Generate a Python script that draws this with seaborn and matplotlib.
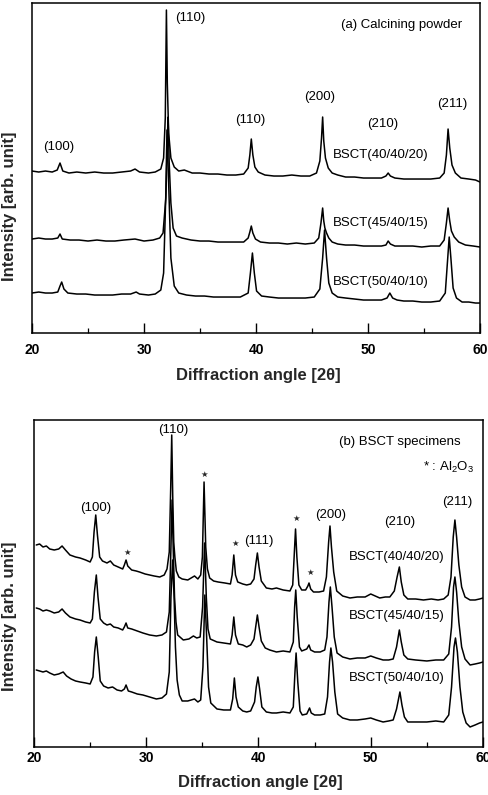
"""
plot.py
XRD patterns of BSCT calcined powders (a) and sintered specimens (b),
three compositions stacked with offsets, redrawn from the published figure.
"""

import numpy as np
import pandas as pd
import matplotlib
matplotlib.use("Agg")
import matplotlib.pyplot as plt
from matplotlib.ticker import MultipleLocator
import seaborn as sns

sns.set_theme(style="ticks")
plt.rcParams["font.family"] = ["Liberation Sans", "DejaVu Sans"]
plt.rcParams["mathtext.fontset"] = "custom"
plt.rcParams["mathtext.rm"] = "Liberation Sans"
plt.rcParams["mathtext.it"] = "Liberation Sans:italic"

samples = ["BSCT(40/40/20)", "BSCT(45/40/15)", "BSCT(50/40/10)"]

# ---- (a) calcining powder : 2theta [deg] / stacked intensity [arb.] ----
a1_angle = [20.0, 20.6, 21.2, 21.8, 22.25, 22.5, 22.75, 23.3, 24.0, 24.8, 25.6, 26.4, 27.2, 28.0,
            28.8, 29.2, 29.6, 30.4, 31.0, 31.5, 31.75, 31.9, 32.0, 32.08, 32.2, 32.4, 32.7, 33.1,
            33.6, 34.3, 35.0, 35.8, 36.6, 37.4, 38.2, 38.9, 39.3, 39.45, 39.58, 39.72, 39.9, 40.2,
            40.8, 41.6, 42.4, 43.2, 44.0, 44.8, 45.4, 45.7, 45.85, 45.95, 46.05, 46.2, 46.45, 46.8,
            47.3, 48.0, 48.8, 49.6, 50.4, 51.2, 51.6, 51.8, 52.0, 52.4, 53.2, 54.0, 54.8, 55.6,
            56.4, 56.8, 57.0, 57.15, 57.3, 57.5, 57.8, 58.3, 59.0, 59.6, 60.0]
a1_int = [162, 161, 162, 161, 163, 170, 162, 160, 161, 160, 161, 160, 160, 161,
          162, 164, 161, 160, 161, 164, 175, 215, 323, 250, 200, 175, 166, 162,
          163, 160, 160, 159, 159, 158, 158, 159, 165, 178, 194, 178, 166, 161,
          158, 157, 157, 158, 157, 157, 160, 172, 195, 216, 192, 175, 165, 160,
          158, 156, 156, 155, 155, 155, 157, 160, 157, 155, 154, 154, 154, 154,
          155, 160, 178, 204, 185, 168, 160, 155, 154, 153, 151]

a2_angle = [20.0, 20.6, 21.2, 21.8, 22.3, 22.5, 22.7, 23.4, 24.2, 25.0, 25.8, 26.6, 27.4, 28.2,
            29.2, 30.0, 30.8, 31.4, 31.7, 31.95, 32.1, 32.15, 32.25, 32.4, 32.6, 32.9, 33.4, 34.2,
            35.0, 35.8, 36.6, 37.4, 38.2, 38.9, 39.3, 39.45, 39.58, 39.72, 39.95, 40.4, 41.2, 42.0,
            42.8, 43.6, 44.4, 45.2, 45.6, 45.8, 45.95, 46.05, 46.15, 46.3, 46.5, 46.8, 47.3, 48.0,
            48.8, 49.6, 50.4, 51.2, 51.6, 51.8, 52.0, 52.4, 53.2, 54.0, 54.8, 55.6, 56.4, 56.8,
            57.0, 57.15, 57.3, 57.45, 57.7, 58.1, 58.7, 59.4, 60.0]
a2_int = [94, 95, 94, 94, 95, 99, 94, 93, 93, 92, 93, 92, 92, 93,
          94, 92, 93, 95, 100, 135, 200, 216, 170, 130, 105, 97, 95, 93,
          92, 92, 91, 91, 91, 91, 95, 101, 107, 100, 94, 91, 90, 90,
          89, 90, 89, 90, 95, 110, 125, 112, 105, 100, 95, 91, 89, 88,
          88, 87, 87, 87, 88, 92, 89, 87, 87, 87, 86, 87, 87, 93,
          110, 125, 112, 102, 96, 91, 88, 87, 86]

a3_angle = [20.0, 20.6, 21.2, 21.8, 22.3, 22.5, 22.65, 22.85, 23.2, 24.0, 24.8, 25.6, 26.4, 27.2,
            28.0, 28.8, 29.3, 29.6, 30.4, 31.0, 31.5, 31.75, 31.95, 32.05, 32.2, 32.4, 32.7, 33.1,
            33.8, 34.6, 35.4, 36.2, 37.0, 37.8, 38.6, 39.3, 39.5, 39.68, 39.85, 40.05, 40.5, 41.2,
            42.0, 42.8, 43.6, 44.4, 45.2, 45.7, 45.95, 46.12, 46.3, 46.5, 46.8, 47.3, 48.0, 48.8,
            49.6, 50.4, 51.2, 51.7, 51.95, 52.2, 52.6, 53.2, 54.0, 54.8, 55.6, 56.4, 56.9, 57.1,
            57.25, 57.4, 57.6, 57.9, 58.4, 59.0, 59.6, 60.0]
a3_int = [40, 41, 40, 40, 41, 47, 51, 44, 40, 39, 39, 38, 38, 38,
          39, 39, 41, 39, 38, 39, 43, 60, 140, 203, 150, 75, 47, 40,
          38, 37, 37, 36, 36, 36, 36, 40, 60, 80, 60, 42, 37, 36,
          35, 35, 35, 35, 36, 44, 75, 103, 75, 50, 40, 36, 35, 34,
          33, 33, 33, 35, 40, 35, 33, 32, 32, 31, 31, 32, 40, 72,
          96, 75, 45, 35, 31, 31, 30, 30]

# ---- (b) BSCT specimens ----
b1_angle = [20.2, 20.5, 20.8, 21.1, 21.4, 21.8, 22.2, 22.5, 22.8, 23.2, 23.7, 24.1, 24.6, 25.0,
            25.2, 25.35, 25.5, 25.65, 25.85, 26.1, 26.5, 26.8, 27.1, 27.5, 27.9, 28.05, 28.2, 28.35,
            28.7, 29.1, 29.4, 29.9, 30.3, 30.7, 31.2, 31.6, 31.85, 32.05, 32.18, 32.27, 32.36, 32.45,
            32.55, 32.68, 32.9, 33.2, 33.7, 34.0, 34.3, 34.6, 34.85, 35.0, 35.15, 35.3, 35.45, 35.65,
            36.0, 36.4, 37.0, 37.5, 37.65, 37.8, 37.95, 38.15, 38.6, 38.95, 39.3, 39.6, 39.75, 39.9,
            40.05, 40.25, 40.7, 41.2, 41.6, 42.2, 42.8, 43.05, 43.2, 43.3, 43.42, 43.6, 43.85, 44.2,
            44.4, 44.5, 44.65, 44.9, 45.4, 45.8, 46.05, 46.25, 46.37, 46.5, 46.7, 46.97, 47.5, 48.15,
            48.8, 49.5, 50.0, 50.4, 50.8, 51.3, 51.7, 52.1, 52.35, 52.55, 52.72, 52.95, 53.3, 54.0,
            54.7, 55.4, 56.0, 56.5, 56.9, 57.15, 57.35, 57.5, 57.65, 57.85, 58.1, 58.4, 58.85, 59.3,
            59.7, 60.0]
b1_int = [202, 203, 200, 201, 198, 197, 198, 201, 197, 192, 190, 189, 187, 185,
          190, 215, 232, 212, 190, 186, 184, 186, 182, 180, 178, 182, 187, 181,
          177, 176, 175, 173, 172, 171, 170, 172, 178, 195, 260, 312, 250, 205,
          190, 176, 170, 168, 167, 169, 171, 168, 172, 190, 265, 200, 178, 169,
          166, 165, 164, 163, 172, 192, 172, 165, 163, 162, 163, 168, 182, 194,
          180, 166, 159, 158, 159, 157, 156, 162, 195, 218, 190, 162, 157, 157,
          161, 164, 158, 155, 155, 156, 170, 205, 221, 200, 175, 156, 151, 149,
          150, 150, 153, 151, 149, 150, 150, 156, 170, 180, 165, 152, 148, 148,
          147, 148, 147, 148, 152, 170, 210, 227, 210, 182, 160, 150, 147, 147,
          148, 149]

b2_angle = [20.2, 20.5, 20.8, 21.1, 21.4, 21.8, 22.2, 22.5, 22.8, 23.2, 23.7, 24.1, 24.6, 25.0,
            25.2, 25.38, 25.55, 25.7, 25.9, 26.2, 26.5, 26.8, 27.1, 27.5, 27.9, 28.05, 28.2, 28.35,
            28.7, 29.2, 29.7, 30.3, 30.9, 31.4, 31.8, 32.05, 32.2, 32.3, 32.4, 32.52, 32.65, 32.8,
            33.3, 33.8, 34.2, 34.5, 34.8, 35.02, 35.2, 35.35, 35.5, 35.7, 36.3, 36.9, 37.5, 37.65,
            37.8, 37.95, 38.2, 38.6, 38.95, 39.3, 39.6, 39.75, 39.9, 40.05, 40.25, 40.6, 41.0, 41.6,
            42.2, 42.8, 43.1, 43.22, 43.32, 43.45, 43.65, 43.85, 44.3, 44.5, 44.65, 45.0, 45.5, 45.9,
            46.1, 46.28, 46.4, 46.55, 46.75, 47.0, 47.5, 48.15, 48.8, 49.5, 50.0, 50.5, 51.1, 51.6,
            52.0, 52.3, 52.55, 52.72, 52.95, 53.3, 54.0, 55.0, 55.8, 56.5, 56.95, 57.2, 57.38, 57.5,
            57.65, 57.85, 58.1, 58.4, 58.85, 59.3, 59.7, 60.0]
b2_int = [139, 138, 136, 137, 136, 134, 135, 138, 134, 130, 128, 127, 125, 124,
          128, 155, 172, 150, 128, 124, 122, 123, 120, 119, 117, 120, 124, 119,
          118, 116, 114, 112, 111, 112, 115, 135, 200, 247, 200, 150, 125, 112,
          107, 108, 111, 109, 110, 140, 204, 150, 118, 108, 105, 104, 103, 112,
          130, 112, 103, 102, 100, 102, 108, 120, 132, 120, 106, 99, 97, 95,
          96, 95, 105, 140, 157, 130, 100, 96, 98, 102, 97, 95, 95, 97,
          110, 145, 160, 140, 110, 94, 90, 88, 89, 89, 91, 89, 87, 87,
          88, 100, 117, 105, 92, 88, 87, 86, 87, 87, 93, 120, 160, 170,
          155, 125, 100, 88, 82, 83, 84, 85]

b3_angle = [20.2, 20.5, 20.8, 21.1, 21.4, 21.8, 22.2, 22.6, 22.9, 23.3, 23.7, 24.1, 24.6, 25.0,
            25.25, 25.4, 25.55, 25.72, 25.9, 26.2, 26.6, 27.0, 27.4, 27.8, 28.05, 28.2, 28.4, 28.7,
            29.2, 29.7, 30.3, 30.9, 31.4, 31.8, 32.05, 32.2, 32.35, 32.48, 32.6, 32.75, 32.95, 33.2,
            33.7, 34.3, 34.6, 34.85, 35.05, 35.22, 35.38, 35.55, 35.75, 36.3, 36.9, 37.5, 37.7, 37.85,
            38.0, 38.2, 38.6, 38.95, 39.3, 39.65, 39.8, 39.95, 40.1, 40.3, 40.7, 41.2, 41.6, 42.2,
            42.8, 43.1, 43.25, 43.35, 43.5, 43.7, 43.9, 44.3, 44.55, 44.7, 45.0, 45.5, 45.9, 46.15,
            46.33, 46.45, 46.6, 46.8, 47.05, 47.5, 48.15, 48.8, 49.5, 50.0, 50.5, 51.1, 51.6, 52.0,
            52.3, 52.6, 52.78, 53.0, 53.3, 54.0, 55.0, 55.8, 56.5, 56.95, 57.2, 57.42, 57.55, 57.72,
            57.95, 58.2, 58.5, 58.85, 59.3, 59.7, 60.0]
b3_int = [77, 76, 75, 76, 74, 72, 73, 75, 71, 68, 66, 65, 64, 63,
          70, 95, 110, 90, 66, 61, 59, 60, 57, 56, 58, 62, 56, 55,
          53, 52, 50, 48, 49, 53, 75, 150, 187, 150, 100, 67, 52, 46,
          46, 48, 45, 47, 80, 152, 110, 60, 44, 38, 37, 37, 48, 69,
          50, 40, 36, 35, 36, 45, 60, 70, 58, 40, 35, 34, 34, 35,
          34, 40, 75, 94, 65, 36, 32, 33, 39, 34, 32, 32, 33, 50,
          85, 99, 85, 55, 33, 29, 27, 27, 28, 29, 27, 25, 26, 27,
          38, 55, 42, 30, 25, 25, 25, 26, 25, 32, 60, 100, 109, 95,
          60, 35, 24, 20, 22, 24, 25]

# peak (hkl) labels: text, 2theta, height
a_hkl = ["(100)", "(110)", "(110)", "(200)", "(210)", "(211)"]
a_hkl_x = [22.4, 34.1, 39.5, 45.7, 51.35, 57.5]
a_hkl_y = [186, 315, 213, 236, 209, 229]
a_name_y = [178, 110, 51]

b_hkl = ["(100)", "(110)", "(111)", "(200)", "(210)", "(211)"]
b_hkl_x = [25.5, 32.4, 40.0, 46.4, 52.6, 57.7]
b_hkl_y = [239, 317, 206, 232, 225, 245]
b_star_x = [28.3, 35.15, 37.9, 43.35, 44.6]
b_star_y = [195, 273, 204, 229, 175]
b_name_y = [190, 131, 69]


def to_frame(angles, values):
    parts = [pd.DataFrame({"angle": a, "intensity": v, "sample": s})
             for a, v, s in zip(angles, values, samples)]
    return pd.concat(parts, ignore_index=True)


df_a = to_frame([a1_angle, a2_angle, a3_angle], [a1_int, a2_int, a3_int])
df_b = to_frame([b1_angle, b2_angle, b3_angle], [b1_int, b2_int, b3_int])

fig = plt.figure(figsize=(4.88, 7.95), dpi=100)
ax_a = fig.add_axes([0.0656, 0.5811, 0.918, 0.4151])
ax_b = fig.add_axes([0.0697, 0.0604, 0.920, 0.4113])

for ax, df, ymax in [(ax_a, df_a, 330), (ax_b, df_b, 327)]:
    sns.lineplot(data=df, x="angle", y="intensity", units="sample", estimator=None,
                 sort=False, color="black", lw=1.1, ax=ax)
    ax.set_xlim(20, 60)
    ax.set_ylim(0, ymax)
    ax.set_yticks([])
    ax.xaxis.set_major_locator(MultipleLocator(10))
    ax.xaxis.set_minor_locator(MultipleLocator(5))
    ax.tick_params(axis="x", which="both", direction="in", top=False, colors="black",
                   labelsize=10)
    ax.tick_params(axis="x", which="major", length=7, width=1.0)
    ax.tick_params(axis="x", which="minor", length=3.5, width=0.9)
    for lab in ax.get_xticklabels():
        lab.set_fontweight("bold")
    for sp in ax.spines.values():
        sp.set_color("black")
        sp.set_linewidth(1.1)
    ax.set_xlabel("Diffraction angle [2θ]", fontsize=12, fontweight="bold")
    ax.set_ylabel("Intensity [arb. unit]", fontsize=12, fontweight="bold")

ax_a.tick_params(axis="x", which="major", pad=7)
ax_b.tick_params(axis="x", which="major", pad=3)
ax_a.xaxis.set_label_coords(0.505, -0.106)
ax_b.xaxis.set_label_coords(0.505, -0.086)
ax_a.yaxis.set_label_coords(-0.033, 0.385)
ax_b.yaxis.set_label_coords(-0.038, 0.40)

txt = dict(fontsize=9.5, color="black", ha="center", va="center")

for t, x, y in zip(a_hkl, a_hkl_x, a_hkl_y):
    ax_a.text(x, y, t, **txt)
for s, y in zip(samples, a_name_y):
    ax_a.text(51.1, y, s, **txt)
ax_a.text(53.0, 308, "(a) Calcining powder", **txt)

for t, x, y in zip(b_hkl, b_hkl_x, b_hkl_y):
    ax_b.text(x, y, t, **txt)
for x, y in zip(b_star_x, b_star_y):
    ax_b.text(x, y, "★", fontsize=6, family="DejaVu Sans", ha="center", va="center")
for s, y in zip(samples, b_name_y):
    ax_b.text(52.3, y, s, **txt)
ax_b.text(52.6, 305, "(b) BSCT specimens", **txt)
ax_b.text(56.9, 280, "* : Al$_2$O$_3$", **txt)

fig.savefig("out.png", dpi=100)
